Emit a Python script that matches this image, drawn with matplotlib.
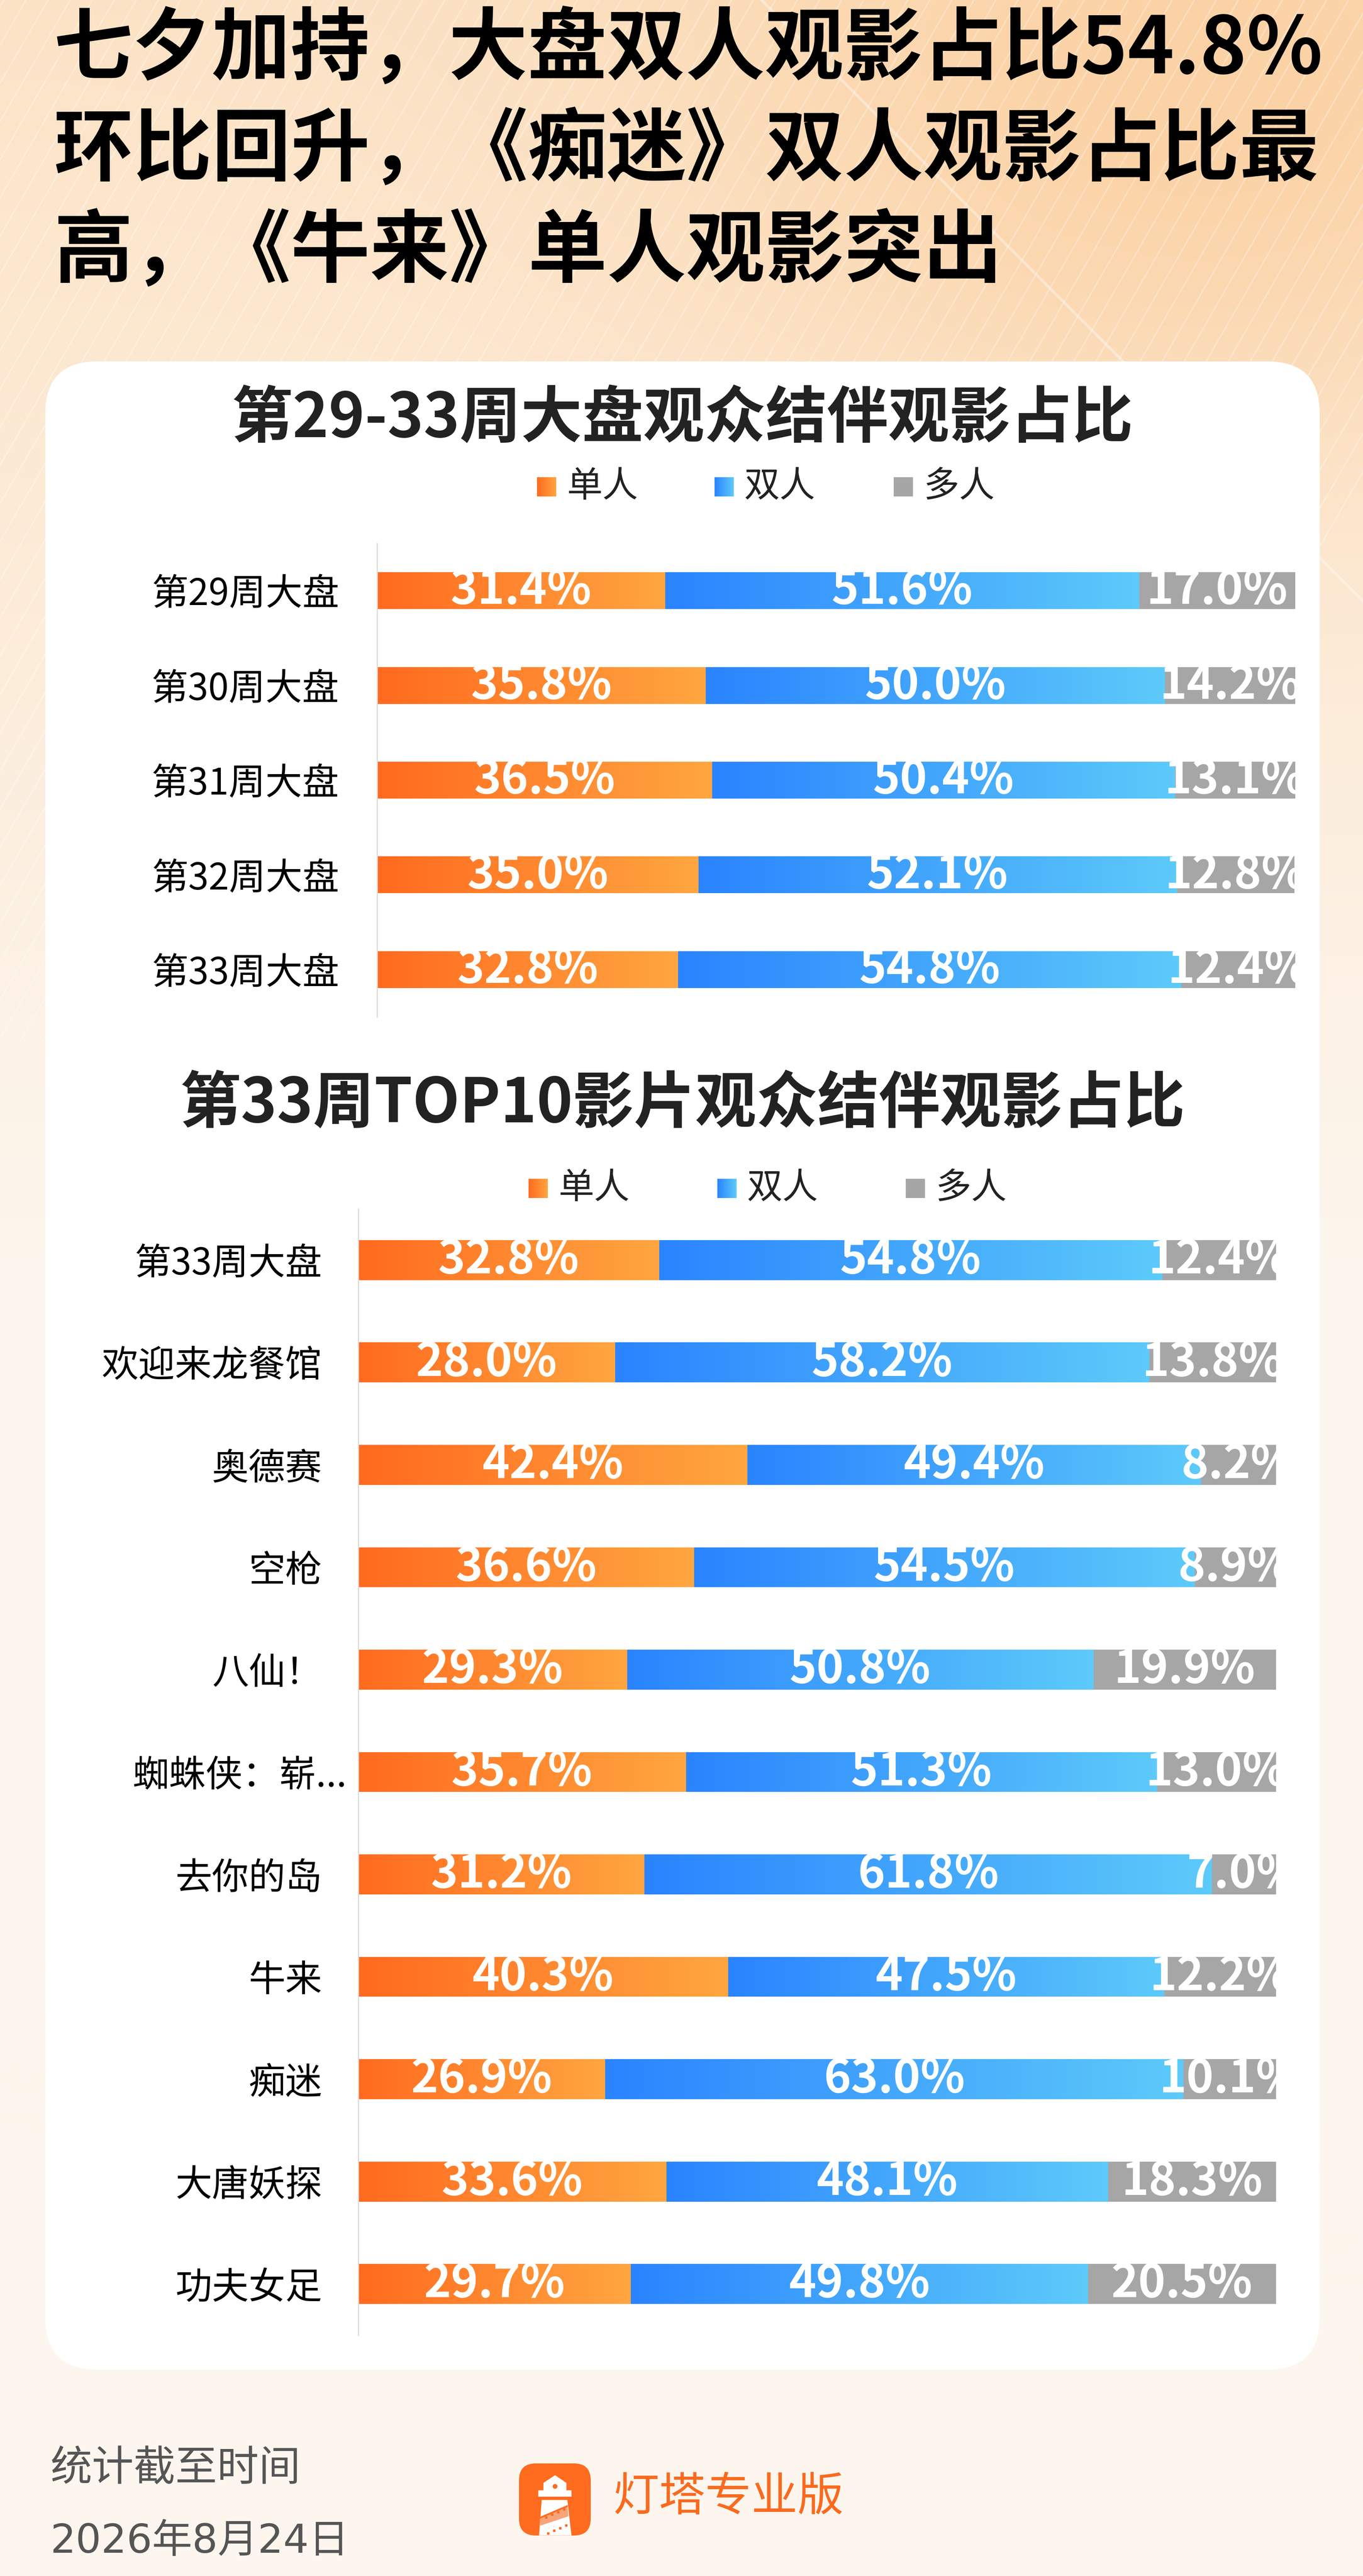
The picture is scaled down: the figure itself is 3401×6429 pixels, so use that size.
import matplotlib
matplotlib.use("Agg")
import matplotlib.pyplot as plt
import numpy as np
from matplotlib.patches import FancyBboxPatch, Rectangle, Polygon, Circle
from matplotlib.colors import LinearSegmentedColormap, to_rgb
from matplotlib.transforms import ScaledTranslation

plt.rcParams['font.family'] = ['Noto Sans CJK SC', 'DejaVu Sans']

W, H, DPI = 3401, 6429, 100

# ---- data ----
title_lines = ["七夕加持，大盘双人观影占比54.8%",
               "环比回升，《痴迷》双人观影占比最",
               "高，《牛来》单人观影突出"]
series_names = ["单人", "双人", "多人"]

chart1_title = "第29-33周大盘观众结伴观影占比"
week_labels = ["第29周大盘", "第30周大盘", "第31周大盘", "第32周大盘", "第33周大盘"]
week_single = [31.4, 35.8, 36.5, 35.0, 32.8]
week_double = [51.6, 50.0, 50.4, 52.1, 54.8]
week_multi = [17.0, 14.2, 13.1, 12.8, 12.4]

chart2_title = "第33周TOP10影片观众结伴观影占比"
film_labels = ["第33周大盘", "欢迎来龙餐馆", "奥德赛", "空枪", "八仙！", "蜘蛛侠：崭...",
               "去你的岛", "牛来", "痴迷", "大唐妖探", "功夫女足"]
film_single = [32.8, 28.0, 42.4, 36.6, 29.3, 35.7, 31.2, 40.3, 26.9, 33.6, 29.7]
film_double = [54.8, 58.2, 49.4, 54.5, 50.8, 51.3, 61.8, 47.5, 63.0, 48.1, 49.8]
film_multi = [12.4, 13.8, 8.2, 8.9, 19.9, 13.0, 7.0, 12.2, 10.1, 18.3, 20.5]

footer_lines = ["统计截至时间", "2026年8月24日"]
brand = "灯塔专业版"

ORANGE = ("#FF6A1F", "#FFA640")
BLUE = ("#2A84FF", "#5DCAFA")
GRAY = "#A6A6A6"

fig = plt.figure(figsize=(W / DPI, H / DPI), dpi=DPI)

# ---- background (pixel coords) ----
bg = fig.add_axes([0, 0, 1, 1])
bg.set_xlim(0, W)
bg.set_ylim(H, 0)
bg.axis("off")

yy, xx = np.mgrid[0:H:20, 0:W:20]
top = np.array(to_rgb("#FCE3C6"))
bot = np.array(to_rgb("#FDF6EE"))
t = np.clip(yy / 3200.0, 0, 1)[..., None]
img = top * (1 - t) + bot * t
blob = np.exp(-(((xx - 3000) / 1300.0) ** 2 + ((yy - 250) / 900.0) ** 2))[..., None]
img = img * (1 - 0.6 * blob) + np.array(to_rgb("#FBC68E")) * 0.6 * blob
bg.imshow(img, extent=(0, W, H, 0), aspect="auto", zorder=0, interpolation="bilinear")

# light diagonal stripes on the left
for x0 in np.arange(-1600, 2600, 55):
    bg.plot([x0, x0 + 1500], [2600, 0], color="white", lw=2.2, alpha=0.35, zorder=1)
bg.plot([1900, 3401], [0, 1500], color="white", lw=5, alpha=0.35, zorder=1)

card = FancyBboxPatch((113, 902), 3293 - 113, 5914 - 902,
                      boxstyle="round,pad=0,rounding_size=130",
                      fc="white", ec="none", zorder=2)
bg.add_patch(card)

for i, line in enumerate(title_lines):
    bg.text(134, 126 + 252 * i, line, fontsize=142, fontweight="bold",
            color="black", ha="left", va="center", zorder=3)


def gradient_rect(ax, patch, c0, c1):
    x0, y0 = patch.get_x(), patch.get_y()
    w, h = patch.get_width(), patch.get_height()
    cmap = LinearSegmentedColormap.from_list("g", [c0, c1])
    im = ax.imshow(np.linspace(0, 1, 256).reshape(1, -1), cmap=cmap,
                   extent=(x0, x0 + w, y0 + h, y0), aspect="auto",
                   interpolation="bilinear", zorder=patch.get_zorder() + 0.1)
    im.set_clip_path(patch)


def legend(xs, yc):
    cols = [ORANGE, BLUE, (GRAY, GRAY)]
    for x, name, c in zip(xs, series_names, cols):
        r = Rectangle((x, yc - 24), 48, 48, fc=c[0], ec="none", zorder=3)
        bg.add_patch(r)
        gradient_rect(bg, r, c[0], c[1])
        bg.text(x + 74, yc, name, fontsize=64, color="#222222",
                ha="left", va="center", zorder=3)


def stacked(rect_px, labels, single, double, multi, pad):
    l, t_, r, b = rect_px
    ax = fig.add_axes([l / W, 1 - b / H, (r - l) / W, (b - t_) / H])
    ax.patch.set_alpha(0)
    y = np.arange(len(labels))
    s = np.array(single)
    d = np.array(double)
    m = np.array(multi)
    h = 0.39
    b1 = ax.barh(y, s, height=h, color=ORANGE[0], zorder=2)
    b2 = ax.barh(y, d, left=s, height=h, color=BLUE[0], zorder=2)
    b3 = ax.barh(y, m, left=s + d, height=h, color=GRAY, zorder=2)
    for p in b1:
        gradient_rect(ax, p, *ORANGE)
    for p in b2:
        gradient_rect(ax, p, *BLUE)
    for bars, vals in ((b1, s), (b2, d), (b3, m)):
        for p, v in zip(bars, vals):
            ax.text(p.get_x() + p.get_width() / 2, p.get_y() + p.get_height() / 2,
                    f"{v:.1f}%", ha="center", va="center", color="white",
                    fontsize=83, fontweight="bold", zorder=5)
    ax.set_xlim(0, 100)
    ax.set_ylim(len(labels) - 0.5, -0.5)
    ax.set_yticks(y)
    ax.set_yticklabels(labels, fontsize=66, color="black")
    ax.set_xticks([])
    ax.tick_params(axis="y", length=0, pad=pad)
    for k in ("top", "right", "bottom"):
        ax.spines[k].set_visible(False)
    ax.spines["left"].set_color("#DADADA")
    ax.spines["left"].set_linewidth(2.0)
    return ax


bg.text(1703, 1046, chart1_title, fontsize=110, fontweight="bold",
        color="#222222", ha="center", va="center", zorder=3)
legend([1340, 1783, 2230], 1215)
stacked((941, 1356, 3232, 2538), week_labels, week_single, week_double, week_multi, 68)

bg.text(1703, 2756, chart2_title, fontsize=110, fontweight="bold",
        color="#222222", ha="center", va="center", zorder=3)
legend([1319, 1790, 2260], 2966)
ax2 = stacked((894, 3017, 3184, 5828), film_labels, film_single, film_double, film_multi, 65)
# the truncated title runs past the label column in the original
for lab in ax2.get_yticklabels():
    if lab.get_text().endswith("..."):
        lab.set_transform(lab.get_transform() + ScaledTranslation(0.62, 0, fig.dpi_scale_trans))

# ---- footer ----
bg.text(126, 6161, footer_lines[0], fontsize=75, color="#555555", ha="left", va="center", zorder=3)
bg.text(126, 6343, footer_lines[1], fontsize=72, color="#555555", ha="left", va="center",
        family=["DejaVu Sans", "Noto Sans CJK SC"], zorder=3)

logo_c = "#FF6B1F"
bg.add_patch(FancyBboxPatch((1295, 6148), 179, 180, boxstyle="round,pad=0,rounding_size=42",
                            fc=logo_c, ec="none", zorder=3))


def lp(zx, zy):
    return (1250 + zx / 3.0, 6100 + zy / 3.0)


bg.add_patch(Polygon([lp(318, 345), lp(318, 290), lp(405, 232), lp(490, 290), lp(490, 345)],
                     closed=True, fc="white", ec="none", zorder=4))
bg.add_patch(Rectangle(lp(280, 345), (528 - 280) / 3.0, (392 - 345) / 3.0, fc="white", ec="none", zorder=4))
bg.add_patch(Circle(lp(405, 316), 6, fc=logo_c, ec="none", zorder=5))
bg.add_patch(Polygon([lp(305, 418), lp(497, 418), lp(528, 683), lp(285, 683)],
                     closed=True, fc="white", ec="none", zorder=4))
bg.add_patch(Polygon([lp(290, 560), lp(500, 470), lp(505, 540), lp(295, 610)],
                     closed=True, fc="#F7A47A", ec="none", zorder=5))
bg.add_patch(Polygon([lp(290, 545), lp(500, 455), lp(500, 470), lp(290, 560)],
                     closed=True, fc=logo_c, ec="none", zorder=5))
for k in range(4):
    bg.add_patch(Rectangle(lp(330 + 45 * k, 540 - 20 * k), 6, 6, fc=logo_c, ec="none", zorder=6))
    bg.add_patch(Rectangle(lp(345 + 45 * k, 660 - 20 * k), 6, 6, fc=logo_c, ec="none", zorder=6))

bg.text(1529, 6233, brand, fontsize=83, fontweight="medium", color="#FA6A1E",
        ha="left", va="center", zorder=3)

fig.savefig("out.png", dpi=DPI)
